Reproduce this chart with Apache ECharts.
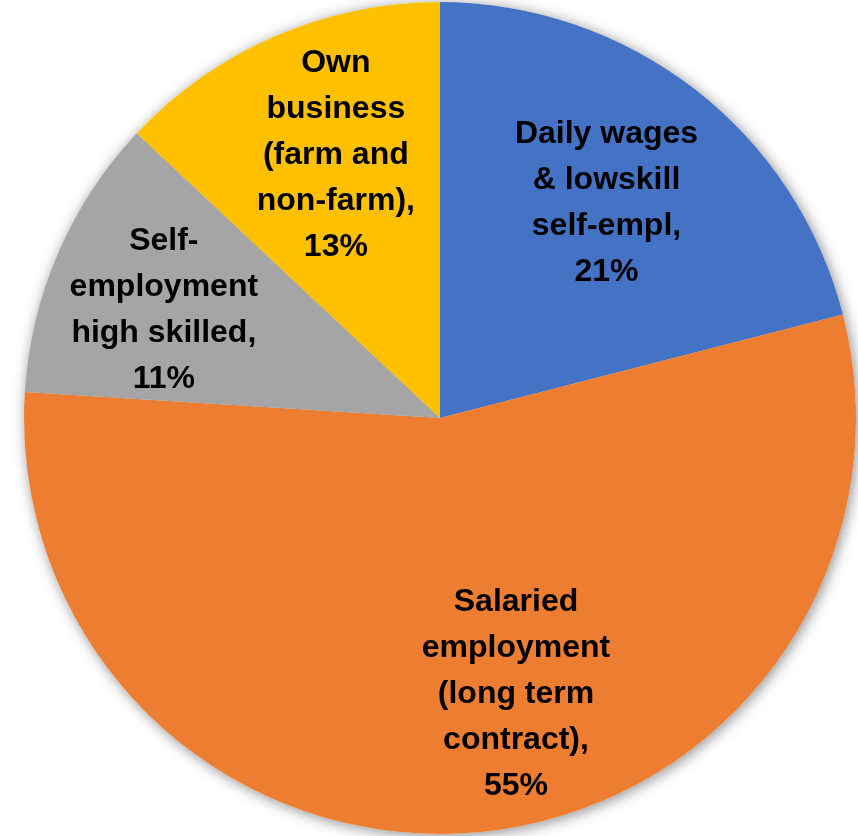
<!DOCTYPE html>
<html>
<head>
<meta charset="utf-8">
<script src="https://cdn.jsdelivr.net/npm/echarts@6/dist/echarts.min.js"></script>
<style>
  html, body { margin: 0; padding: 0; background: #ffffff; }
  #chart { width: 858px; height: 836px; }
</style>
</head>
<body>
<div id="chart"></div>
<script>
// Employment categories (line breaks as they wrap inside the slices)
const categories = [
  'Daily wages\n& lowskill\nself-empl',
  'Salaried\nemployment\n(long term\ncontract)',
  'Self-\nemployment\nhigh skilled',
  'Own\nbusiness\n(farm and\nnon-farm)'
];
// Share of households, percent
const shares = [21, 55, 11, 13];
const colors = ['#4472C4', '#ED7D31', '#A5A5A5', '#FFC000'];

// Pie geometry (pixels)
const CX = 440, CY = 418, R = 416;
// Label placement: fraction of radius and angular nudge (degrees) per slice
const labelRadius = [0.653, 0.688, 0.713, 0.68];
const labelNudge = [0, -10, -2, 1.8];

const total = shares.reduce((a, b) => a + b, 0);
const midAngles = [];
let acc = 0;
shares.forEach(v => {
  midAngles.push((acc + v / 2) / total * 360);
  acc += v;
});

const data = categories.map((name, i) => ({
  name: name,
  value: shares[i],
  itemStyle: { color: colors[i] }
}));

const chart = echarts.init(document.getElementById('chart'), null, { renderer: 'canvas' });
chart.setOption({
  backgroundColor: '#ffffff',
  animation: false,
  series: [
    {
      // soft drop shadow behind the whole pie
      type: 'pie',
      silent: true,
      z: 1,
      center: [CX, CY],
      radius: [0, R],
      startAngle: 90,
      clockwise: true,
      label: { show: false },
      labelLine: { show: false },
      itemStyle: {
        color: '#ffffff',
        shadowBlur: 14,
        shadowOffsetX: 2,
        shadowOffsetY: 2,
        shadowColor: 'rgba(0,0,0,0.45)'
      },
      data: shares.map(v => ({ value: v }))
    },
    {
      type: 'pie',
      z: 2,
      center: [CX, CY],
      radius: [0, R],
      startAngle: 90,
      clockwise: true,
      avoidLabelOverlap: false,
      itemStyle: { borderWidth: 0 },
      label: {
        show: true,
        position: 'inside',
        formatter: p => p.name + ',\n' + p.value + '%',
        color: '#000000',
        fontFamily: 'Liberation Sans',
        fontWeight: 'bold',
        fontSize: 32,
        lineHeight: 46,
        align: 'center'
      },
      labelLine: { show: false },
      labelLayout: function (params) {
        const i = params.dataIndex;
        const a = (midAngles[i] + labelNudge[i]) * Math.PI / 180;
        const d = labelRadius[i] * R;
        return {
          x: CX + d * Math.sin(a),
          y: CY - d * Math.cos(a),
          align: 'center',
          verticalAlign: 'middle'
        };
      },
      data: data
    }
  ]
});
</script>
</body>
</html>
